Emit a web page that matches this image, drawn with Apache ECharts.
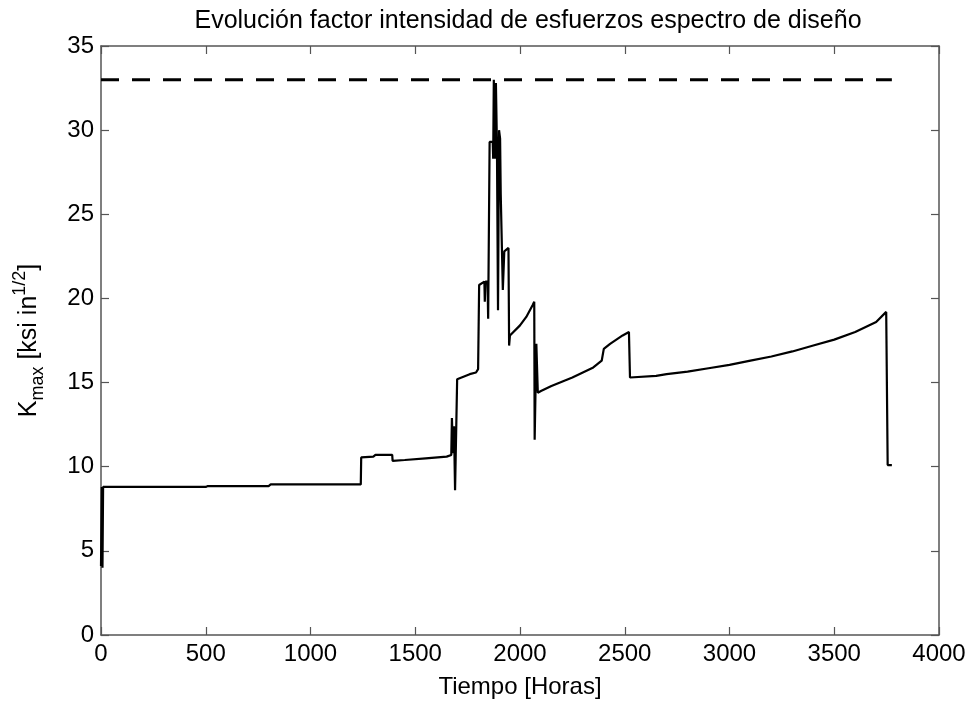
<!DOCTYPE html>
<html>
<head>
<meta charset="utf-8">
<script src="https://cdn.jsdelivr.net/npm/echarts@6/dist/echarts.min.js"></script>
<style>
  html, body { margin: 0; padding: 0; background: #fff; }
  #chart { width: 974px; height: 704px; }
</style>
</head>
<body>
<div id="chart"></div>
<script>
// K_max history (hours, ksi·in^1/2)
const hours = [
  0, 4, 7, 10, 500, 510, 800, 810, 1240, 1242, 1300, 1310, 1390, 1392, 1450, 1550, 1650,
  1672, 1675, 1680, 1685, 1690, 1700, 1760, 1790, 1800, 1805, 1830, 1832, 1835, 1845,
  1848, 1855, 1870, 1872, 1875, 1880, 1885, 1890, 1895, 1900, 1905, 1908, 1915, 1918,
  1925, 1945, 1948, 1952, 2000, 2030, 2060, 2068, 2070, 2078, 2085, 2100, 2150, 2200,
  2250, 2300, 2350, 2390, 2400, 2430, 2460, 2490, 2520, 2525, 2650, 2700, 2800, 2900,
  3000, 3100, 3200, 3300, 3400, 3500, 3600, 3700, 3748, 3755, 3775
];
const kmax = [
  4.1, 8.8, 4.0, 8.8, 8.8, 8.85, 8.85, 8.95, 8.95, 10.55, 10.6, 10.7, 10.7, 10.35, 10.4, 10.5, 10.6,
  10.7, 12.9, 10.8, 12.4, 8.6, 15.2, 15.5, 15.6, 15.8, 20.8, 21.0, 19.8, 21.0, 21.0,
  18.8, 29.3, 29.3, 28.3, 33.0, 28.3, 32.8, 29.0, 19.3, 30.0, 29.5, 26.2, 26.2, 20.5,
  22.8, 23.0, 17.2, 17.8, 18.4, 18.9, 19.6, 19.8, 11.6, 17.3, 14.4, 14.5, 14.8, 15.05,
  15.3, 15.6, 15.9, 16.3, 17.0, 17.3, 17.55, 17.8, 18.0, 15.3, 15.4, 15.5, 15.65, 15.85,
  16.05, 16.3, 16.55, 16.85, 17.2, 17.55, 18.0, 18.6, 19.2, 10.1, 10.1
];

// design limit (dashed)
const limitHours = [0, 3775];
const limitValue = 33;

const xTicks = [0, 500, 1000, 1500, 2000, 2500, 3000, 3500, 4000];
const yTicks = [0, 5, 10, 15, 20, 25, 30, 35];

const font = 'Liberation Sans, Arial, sans-serif';
const axisColor = '#555';

const chart = echarts.init(document.getElementById('chart'));

const mainLine = hours.map((h, i) => [h, kmax[i]]);
const limitLine = limitHours.map(h => [h, limitValue]);

function boxAxis(pos, isX) {
  return {
    type: 'value',
    position: pos,
    min: isX ? xTicks[0] : yTicks[0],
    max: isX ? xTicks[xTicks.length - 1] : yTicks[yTicks.length - 1],
    interval: isX ? 500 : 5,
    axisLine: { show: true, onZero: false, lineStyle: { color: axisColor, width: 1.5 } },
    axisTick: { show: true, inside: true, length: 8, lineStyle: { color: axisColor, width: 1.2 } },
    axisLabel: { show: false },
    splitLine: { show: false }
  };
}

const option = {
  backgroundColor: '#ffffff',
  animation: false,
  title: {
    text: 'Evolución factor intensidad de esfuerzos espectro de diseño',
    left: 523,
    top: 4,
    textAlign: 'center',
    textStyle: { fontFamily: font, fontSize: 25, fontWeight: 'normal', color: '#000' }
  },
  grid: { left: 101, right: 35, top: 46, bottom: 67, containLabel: false },
  xAxis: [
    {
      type: 'value',
      position: 'bottom',
      min: 0,
      max: 4000,
      interval: 500,
      name: 'Tiempo [Horas]',
      nameLocation: 'middle',
      nameGap: 40,
      nameTextStyle: { fontFamily: font, fontSize: 24, color: '#000' },
      axisLine: { show: true, onZero: false, lineStyle: { color: axisColor, width: 1.5 } },
      axisTick: { show: true, inside: true, length: 8, lineStyle: { color: axisColor, width: 1.2 } },
      axisLabel: { fontFamily: font, fontSize: 24, color: '#000', margin: 7, formatter: v => String(v) },
      splitLine: { show: false }
    },
    boxAxis('top', true)
  ],
  yAxis: [
    {
      type: 'value',
      position: 'left',
      min: 0,
      max: 35,
      interval: 5,
      name: '{n|K}{sub|max}{n| [ksi in}{sup|1/2}{n|]}',
      nameLocation: 'middle',
      nameRotate: 90,
      nameGap: 54,
      nameTextStyle: {
        fontFamily: font,
        color: '#000',
        rich: {
          n: { fontFamily: font, fontSize: 25, lineHeight: 36, color: '#000' },
          sub: { fontFamily: font, fontSize: 18, verticalAlign: 'bottom', lineHeight: 36, color: '#000' },
          sup: { fontFamily: font, fontSize: 18, verticalAlign: 'top', lineHeight: 36, color: '#000' }
        }
      },
      axisLine: { show: true, onZero: false, lineStyle: { color: axisColor, width: 1.5 } },
      axisTick: { show: true, inside: true, length: 8, lineStyle: { color: axisColor, width: 1.2 } },
      axisLabel: { fontFamily: font, fontSize: 24, color: '#000', margin: 7, formatter: v => String(v) },
      splitLine: { show: false }
    },
    boxAxis('right', false)
  ],
  series: [
    {
      type: 'line',
      data: limitLine,
      xAxisIndex: 0,
      yAxisIndex: 0,
      showSymbol: false,
      lineStyle: { color: '#000', width: 3, type: [18, 13] }
    },
    {
      type: 'line',
      data: mainLine,
      xAxisIndex: 0,
      yAxisIndex: 0,
      showSymbol: false,
      lineStyle: { color: '#000', width: 2.2 }
    }
  ]
};

chart.setOption(option);
</script>
</body>
</html>
